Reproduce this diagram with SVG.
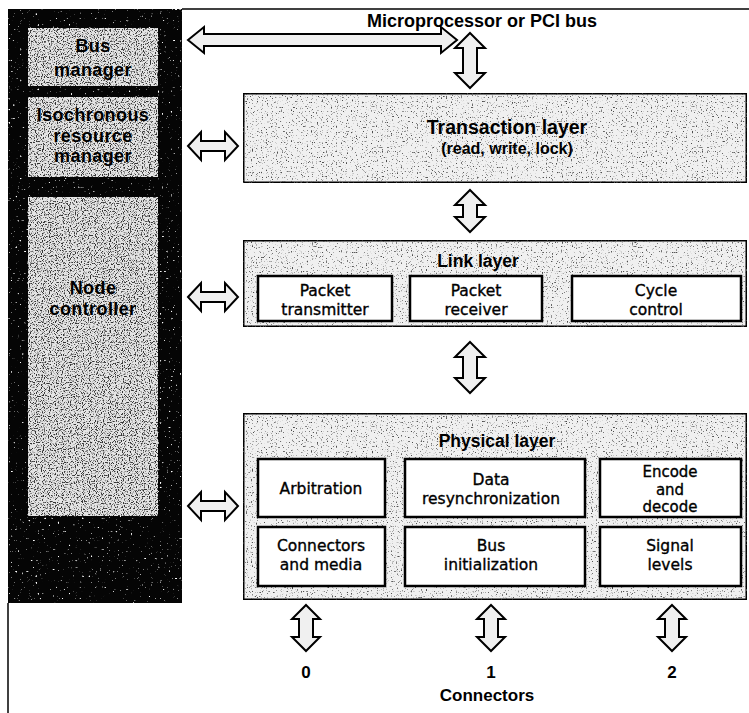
<svg xmlns="http://www.w3.org/2000/svg" width="749" height="713" viewBox="0 0 749 713">
  <defs>
    <!-- stipple for the light grey panels -->
    <filter id="grain" x="0" y="0" width="1" height="1" color-interpolation-filters="sRGB">
      <feTurbulence type="fractalNoise" baseFrequency="0.8" numOctaves="1" seed="4" result="noise"/>
      <feColorMatrix in="noise" type="matrix" values="0 0 0 0 0.3  0 0 0 0 0.3  0 0 0 0 0.3  7 0 0 0 -4.2" result="dots"/>
      <feComposite in="dots" in2="SourceGraphic" operator="in" result="clipped"/>
      <feMerge><feMergeNode in="SourceGraphic"/><feMergeNode in="clipped"/></feMerge>
    </filter>
    <!-- denser stipple for the controller panels -->
    <filter id="grainDense" x="0" y="0" width="1" height="1" color-interpolation-filters="sRGB">
      <feTurbulence type="fractalNoise" baseFrequency="0.85" numOctaves="1" seed="9" result="noise"/>
      <feColorMatrix in="noise" type="matrix" values="0 0 0 0 0.2  0 0 0 0 0.2  0 0 0 0 0.2  7 0 0 0 -3.6" result="dots"/>
      <feComposite in="dots" in2="SourceGraphic" operator="in" result="clipped"/>
      <feMerge><feMergeNode in="SourceGraphic"/><feMergeNode in="clipped"/></feMerge>
    </filter>
    <!-- white specks on the dark column -->
    <filter id="specks" x="0" y="0" width="1" height="1" color-interpolation-filters="sRGB">
      <feTurbulence type="fractalNoise" baseFrequency="0.45" numOctaves="1" seed="2" result="noise"/>
      <feColorMatrix in="noise" type="matrix" values="0 0 0 0 1  0 0 0 0 1  0 0 0 0 1  10 0 0 0 -6.8" result="dots"/>
      <feComposite in="dots" in2="SourceGraphic" operator="in" result="clipped"/>
      <feMerge><feMergeNode in="SourceGraphic"/><feMergeNode in="clipped"/></feMerge>
    </filter>
  </defs>
  <style>
    .frame { fill: none; stroke: #000; stroke-width: 1.5; }
    .column { fill: #050505; }
    .ctrl { fill: #e4e4e4; stroke: none; }
    .layer { fill: #f0f0f0; stroke: #000; stroke-width: 3; }
    .unit { fill: #fff; stroke: #000; stroke-width: 2.5; }
    .arrow { fill: #f0f0f0; stroke: #000; stroke-width: 2; stroke-linejoin: miter; }
    .title { font-family: "Liberation Sans", Arial, sans-serif; font-weight: bold; font-size: 18px; text-anchor: middle; fill: #000; }
    .side { font-family: "Liberation Sans", Arial, sans-serif; font-weight: bold; font-size: 18px; letter-spacing: 0.4px; text-anchor: middle; fill: #000; }
    .head { font-family: "Liberation Sans", Arial, sans-serif; font-weight: bold; font-size: 17.5px; text-anchor: middle; fill: #000; }
    .head-lg { font-size: 19.5px; }
    .sub { font-family: "Liberation Sans", Arial, sans-serif; font-weight: bold; font-size: 16px; text-anchor: middle; fill: #000; }
    .lbl { font-family: "DejaVu Sans", "Liberation Sans", sans-serif; font-size: 15.5px; text-anchor: middle; fill: #000; stroke: #000; stroke-width: 0.35; }
    .lbl-sm { font-size: 15px; }
    .port { font-family: "Liberation Sans", Arial, sans-serif; font-weight: bold; font-size: 17px; text-anchor: middle; fill: #000; }
  </style>

  <rect width="749" height="713" fill="#fff"/>

  <!-- outer frame -->
  <g id="frame">
    <line class="frame" x1="182" y1="9" x2="749" y2="9"/>
    <line class="frame" x1="8" y1="603" x2="8" y2="713"/>
  </g>

  <!-- dark management column -->
  <rect id="column" class="column" x="8" y="9" width="174" height="594" filter="url(#specks)"/>

  <g id="bus-manager">
    <rect class="ctrl" x="28" y="28" width="130" height="58" filter="url(#grainDense)"/>
    <text class="side" x="93" y="52">Bus</text>
    <text class="side" x="93" y="76">manager</text>
  </g>

  <g id="isochronous-resource-manager">
    <rect class="ctrl" x="28" y="97" width="130" height="80" filter="url(#grainDense)"/>
    <text class="side" x="93" y="121">Isochronous</text>
    <text class="side" x="93" y="141.5">resource</text>
    <text class="side" x="93" y="162">manager</text>
  </g>

  <g id="node-controller">
    <rect class="ctrl" x="28" y="197" width="130" height="319" filter="url(#grainDense)"/>
    <text class="side" x="93" y="294">Node</text>
    <text class="side" x="93" y="315">controller</text>
  </g>

  <g id="bus-title">
    <text class="title" x="482" y="27">Microprocessor or PCI bus</text>
  </g>

  <g id="transaction-layer">
    <rect class="layer" x="243" y="93" width="504" height="90" filter="url(#grain)"/>
    <text class="head head-lg" x="507" y="134">Transaction layer</text>
    <text class="sub" x="507" y="154">(read, write, lock)</text>
  </g>

  <g id="link-layer">
    <rect class="layer" x="243" y="240" width="504" height="87" filter="url(#grain)"/>
    <text class="head" x="478" y="267">Link layer</text>
    <g id="packet-transmitter">
      <rect class="unit" x="258" y="276" width="134" height="45"/>
      <text class="lbl" x="325" y="296">Packet</text>
      <text class="lbl" x="325" y="314.5">transmitter</text>
    </g>
    <g id="packet-receiver">
      <rect class="unit" x="410" y="276" width="132" height="45"/>
      <text class="lbl" x="476" y="296">Packet</text>
      <text class="lbl" x="476" y="314.5">receiver</text>
    </g>
    <g id="cycle-control">
      <rect class="unit" x="572" y="276" width="169" height="45"/>
      <text class="lbl" x="656" y="296">Cycle</text>
      <text class="lbl" x="656" y="314.5">control</text>
    </g>
  </g>

  <g id="physical-layer">
    <rect class="layer" x="243" y="413" width="504" height="187" filter="url(#grain)"/>
    <text class="head" x="497" y="447">Physical layer</text>
    <g id="arbitration">
      <rect class="unit" x="258" y="459" width="127" height="58"/>
      <text class="lbl" x="321" y="494">Arbitration</text>
    </g>
    <g id="data-resynchronization">
      <rect class="unit" x="405" y="459" width="180" height="58"/>
      <text class="lbl" x="491" y="485">Data</text>
      <text class="lbl" x="491" y="503.5">resynchronization</text>
    </g>
    <g id="encode-decode">
      <rect class="unit" x="600" y="459" width="141" height="58"/>
      <text class="lbl lbl-sm" x="670" y="477">Encode</text>
      <text class="lbl lbl-sm" x="670" y="494.5">and</text>
      <text class="lbl lbl-sm" x="670" y="512">decode</text>
    </g>
    <g id="connectors-media">
      <rect class="unit" x="258" y="527" width="127" height="59"/>
      <text class="lbl" x="321" y="551">Connectors</text>
      <text class="lbl" x="321" y="569.5">and media</text>
    </g>
    <g id="bus-initialization">
      <rect class="unit" x="405" y="527" width="180" height="59"/>
      <text class="lbl" x="491" y="551">Bus</text>
      <text class="lbl" x="491" y="569.5">initialization</text>
    </g>
    <g id="signal-levels">
      <rect class="unit" x="600" y="527" width="141" height="59"/>
      <text class="lbl" x="670" y="551">Signal</text>
      <text class="lbl" x="670" y="569.5">levels</text>
    </g>
  </g>

  <g id="ports">
    <text class="port" x="306" y="678">0</text>
    <text class="port" x="491" y="678">1</text>
    <text class="port" x="672" y="678">2</text>
    <text class="port" x="487" y="701">Connectors</text>
  </g>

  <!-- double-headed hollow connectors -->
  <g id="connectors">
    <path class="arrow" d="M188,40 L204,27 L204,34 L441,34 L441,27 L457,40 L441,53 L441,46 L204,46 L204,53 Z"/>
    <path class="arrow" d="M188,146 L201,132 L201,141 L225,141 L225,132 L238,146 L225,160 L225,151 L201,151 L201,160 Z"/>
    <path class="arrow" d="M188,297 L201,283 L201,292 L225,292 L225,283 L238,297 L225,311 L225,302 L201,302 L201,311 Z"/>
    <path class="arrow" d="M188,506 L201,492 L201,501 L225,501 L225,492 L238,506 L225,520 L225,511 L201,511 L201,520 Z"/>
    <path class="arrow" d="M470,33 L485,48 L477,48 L477,73 L485,73 L470,88 L455,73 L463,73 L463,48 L455,48 Z"/>
    <path class="arrow" d="M470,190 L485,205 L477,205 L477,217 L485,217 L470,232 L455,217 L463,217 L463,205 L455,205 Z"/>
    <path class="arrow" d="M470,342 L485,357 L477,357 L477,378 L485,378 L470,393 L455,378 L463,378 L463,357 L455,357 Z"/>
    <path class="arrow" d="M306,605 L320,619 L313,619 L313,637 L320,637 L306,651 L292,637 L299,637 L299,619 L292,619 Z"/>
    <path class="arrow" d="M491,605 L505,619 L498,619 L498,637 L505,637 L491,651 L477,637 L484,637 L484,619 L477,619 Z"/>
    <path class="arrow" d="M672,605 L686,619 L679,619 L679,637 L686,637 L672,651 L658,637 L665,637 L665,619 L658,619 Z"/>
  </g>
</svg>
